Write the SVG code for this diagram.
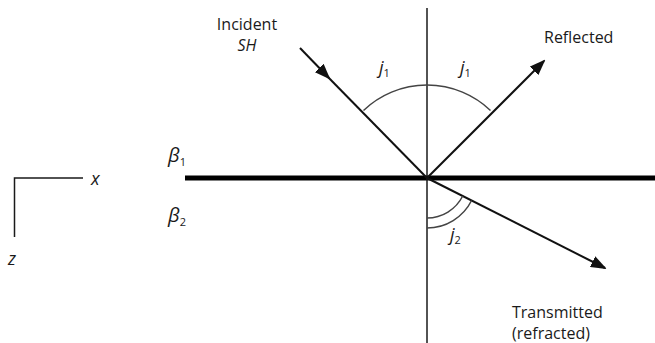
<svg xmlns="http://www.w3.org/2000/svg" width="655" height="343" viewBox="0 0 655 343">
<style>
text{font-family:"Open Sans","Noto Sans","Liberation Sans",sans-serif;font-size:16px;fill:#1a1a1a}
.it{font-style:italic}
.sub{font-size:11px;font-style:normal}
.big{font-size:20px}
.mid{font-size:18px}
.thin{stroke:#1a1a1a;stroke-width:1.5;fill:none}
.ray{stroke:#111;stroke-width:2;fill:none}
.arc{stroke:#444;stroke-width:1.5;fill:none}
</style>
<defs>
<marker id="ah" markerWidth="16" markerHeight="12" refX="14" refY="6" orient="auto" markerUnits="userSpaceOnUse">
<path d="M0,0 L16,6 L0,12 Z" fill="#111"/>
</marker>
</defs>
<rect width="655" height="343" fill="#fff"/>
<g id="axes">
<path class="thin" d="M83,178 H14.5 V237"/>
<text class="it mid" x="91" y="185">x</text>
<text class="it mid" x="8" y="265">z</text>
</g>
<g id="interface">
<line x1="185" y1="178" x2="655" y2="178" stroke="#000" stroke-width="5"/>
<text class="it big" x="168" y="162">β<tspan class="sub" dy="4">1</tspan></text>
<text class="it big" x="168" y="222">β<tspan class="sub" dy="4">2</tspan></text>
</g>
<g id="normal">
<line class="thin" x1="427" y1="8" x2="427" y2="343"/>
</g>
<g id="connectors">
<line class="ray" x1="300" y1="48" x2="329" y2="78" marker-end="url(#ah)"/>
<line class="ray" x1="325" y1="74" x2="427" y2="178"/>
<line class="ray" x1="427" y1="178" x2="544" y2="61" marker-end="url(#ah)"/>
<line class="ray" x1="427" y1="178" x2="605" y2="268" marker-end="url(#ah)"/>
<path class="arc" d="M363.5,110.5 A92,92 0 0 1 490.5,110.5"/>
<path class="arc" d="M427,218 A40,40 0 0 0 462.7,196"/>
<path class="arc" d="M427,228 A50,50 0 0 0 471.6,200.5"/>
</g>
<g id="incident">
<text x="247" y="30" text-anchor="middle">Incident</text>
<text class="it" x="247" y="51" text-anchor="middle">SH</text>
</g>
<g id="reflected">
<text x="544" y="43">Reflected</text>
</g>
<g id="labels">
<text class="it mid" x="379" y="74">j<tspan class="sub" dy="3">1</tspan></text>
<text class="it mid" x="460" y="74">j<tspan class="sub" dy="3">1</tspan></text>
<text class="it mid" x="450" y="241">j<tspan class="sub" dy="3">2</tspan></text>
</g>
<g id="transmitted">
<text x="512" y="318">Transmitted</text>
<text x="512" y="339">(refracted)</text>
</g>
</svg>
